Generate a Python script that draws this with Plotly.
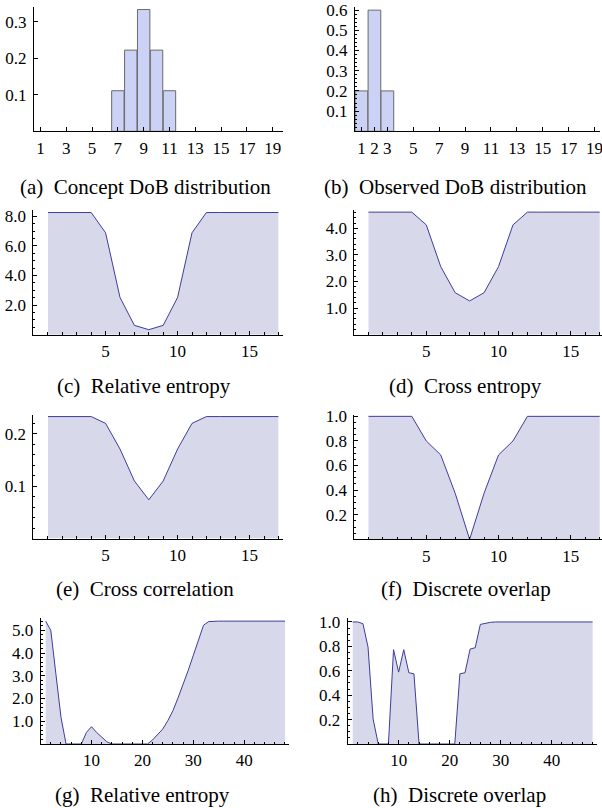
import plotly.graph_objects as go

W, H = 602, 808

# ---------------- data ----------------
dob_ticks_a = [1, 3, 5, 7, 9, 11, 13, 15, 17, 19]
dob_ticks_b = [1, 2, 3, 5, 7, 9, 11, 13, 15, 17, 19]
concept_dob = [7, 8, 9, 10, 11]
concept_p = [0.111, 0.222, 0.333, 0.222, 0.111]
observed_dob = [1, 2, 3]
observed_p = [0.2, 0.6, 0.2]

shift17 = list(range(1, 18))
rel_entropy = [8.25, 8.25, 8.25, 8.25, 6.88, 2.52, 0.63, 0.34, 0.63, 2.52, 6.88,
               8.25, 8.25, 8.25, 8.25, 8.25, 8.25]
cross_entropy = [4.61, 4.61, 4.61, 4.61, 4.13, 2.56, 1.58, 1.27, 1.58, 2.56, 4.13,
                 4.61, 4.61, 4.61, 4.61, 4.61, 4.61]
cross_corr = [0.233, 0.233, 0.233, 0.233, 0.220, 0.171, 0.110, 0.074, 0.110, 0.171,
              0.220, 0.233, 0.233, 0.233, 0.233, 0.233, 0.233]
disc_overlap = [1.0, 1.0, 1.0, 1.0, 0.80, 0.686, 0.375, 0.0, 0.375, 0.686, 0.80,
                1.0, 1.0, 1.0, 1.0, 1.0, 1.0]

shift48 = list(range(1, 49))
rel_entropy_48 = [5.40, 5.00, 3.09, 1.18, 0.0, 0.0, 0.0, 0.0, 0.51, 0.76, 0.51, 0.29,
                  0.10, 0.0, 0.0, 0.0, 0.0, 0.0, 0.0, 0.0, 0.0, 0.18, 0.40, 0.66,
                  1.03, 1.47, 2.03, 2.62, 3.24, 3.90, 4.59, 5.22, 5.38, 5.40, 5.40, 5.40,
                  5.40, 5.40, 5.40, 5.40, 5.40, 5.40, 5.40, 5.40, 5.40, 5.40, 5.40, 5.40]
disc_overlap_48 = [1.0, 1.0, 0.986, 0.795, 0.205, 0.0, 0.0, 0.0, 0.773, 0.589, 0.773,
                   0.584, 0.575, 0.0, 0.0, 0.0, 0.0, 0.0, 0.0, 0.0, 0.0, 0.575, 0.584,
                   0.778, 0.789, 0.98, 0.99, 0.997, 1.0, 1.0, 1.0, 1.0, 1.0, 1.0, 1.0,
                   1.0, 1.0, 1.0, 1.0, 1.0, 1.0, 1.0, 1.0, 1.0, 1.0, 1.0, 1.0, 1.0]

captions = ["(a)\u00a0\u00a0Concept DoB distribution", "(b)\u00a0\u00a0Observed DoB distribution",
            "(c)\u00a0\u00a0Relative entropy", "(d)\u00a0\u00a0Cross entropy",
            "(e)\u00a0\u00a0Cross correlation", "(f)\u00a0\u00a0Discrete overlap",
            "(g)\u00a0\u00a0Relative entropy", "(h)\u00a0\u00a0Discrete overlap"]

# ---------------- styling / layout ----------------
FONT = "Liberation Serif, Times New Roman, serif"
LINE = "#3D3D99"
FILL = "#D8D8EB"
BAR = "#CBD2F5"
BAR_EDGE = "#6A6A6A"

# panel pixel boxes: left, right, bottom, top ; x range ; y range
panels = [
    dict(box=(34, 283, 131.3, 7.0), xr=[0.5, 19.8], yr=[0, 0.34]),
    dict(box=(355, 600, 131.3, 6.7), xr=[0.5, 19.42], yr=[0, 0.617]),
    dict(box=(33.3, 283.3, 334.7, 210), xr=[-0.02, 17.34], yr=[0, 8.42]),
    dict(box=(354.3, 601.7, 334.7, 210), xr=[0.02, 17.14], yr=[0, 4.69]),
    dict(box=(33.3, 283.3, 538.5, 415), xr=[-0.02, 17.34], yr=[0, 0.236]),
    dict(box=(354.3, 601.7, 539.3, 415), xr=[0.02, 17.14], yr=[0, 1.011]),
    dict(box=(40.7, 289.3, 744, 618.3), xr=[0.02, 48.85], yr=[0, 5.525]),
    dict(box=(347.7, 596.7, 744, 618.3), xr=[0.02, 48.8], yr=[0, 1.03]),
]

cap_pos = [(145.5, 186.5), (455.7, 186.5), (144, 385.5), (465, 385.5),
           (145, 589), (466, 589), (142.5, 795), (459, 795)]

fig = go.Figure()

# bars
fig.add_trace(go.Bar(x=concept_dob, y=concept_p, width=0.96, marker=dict(color=BAR, line=dict(color=BAR_EDGE, width=1)),
                     xaxis="x", yaxis="y"))
fig.add_trace(go.Bar(x=observed_dob, y=observed_p, width=0.98, marker=dict(color=BAR, line=dict(color=BAR_EDGE, width=1)),
                     xaxis="x2", yaxis="y2"))

series = [(shift17, rel_entropy), (shift17, cross_entropy), (shift17, cross_corr),
          (shift17, disc_overlap), (shift48, rel_entropy_48), (shift48, disc_overlap_48)]
for i, (xs, ys) in enumerate(series):
    k = i + 3
    fig.add_trace(go.Scatter(x=xs, y=ys, mode="lines", fill="tozeroy", fillcolor=FILL,
                             line=dict(color=LINE, width=1), xaxis=f"x{k}", yaxis=f"y{k}"))

def fmt(vals, nd):
    return [f"{v:.{nd}f}" for v in vals]

tick_specs = [
    (dob_ticks_a, [str(v) for v in dob_ticks_a], None, [0.1, 0.2, 0.3], fmt([0.1, 0.2, 0.3], 1), None),
    (dob_ticks_b, [str(v) for v in dob_ticks_b], None, [0.1, 0.2, 0.3, 0.4, 0.5, 0.6],
     fmt([0.1, 0.2, 0.3, 0.4, 0.5, 0.6], 1), 0.02),
    ([5, 10, 15], ["5", "10", "15"], 1, [2, 4, 6, 8], fmt([2, 4, 6, 8], 1), 0.5),
    ([5, 10, 15], ["5", "10", "15"], 1, [1, 2, 3, 4], fmt([1, 2, 3, 4], 1), 0.2),
    ([5, 10, 15], ["5", "10", "15"], 1, [0.1, 0.2], fmt([0.1, 0.2], 1), 0.02),
    ([5, 10, 15], ["5", "10", "15"], 1, [0.2, 0.4, 0.6, 0.8, 1.0], fmt([0.2, 0.4, 0.6, 0.8, 1.0], 1), 0.05),
    ([10, 20, 30, 40], ["10", "20", "30", "40"], 2, [1, 2, 3, 4, 5], fmt([1, 2, 3, 4, 5], 1), 0.2),
    ([10, 20, 30, 40], ["10", "20", "30", "40"], 2, [0.2, 0.4, 0.6, 0.8, 1.0], fmt([0.2, 0.4, 0.6, 0.8, 1.0], 1), 0.05),
]

tickfont = dict(family=FONT, size=17, color="black")
layout = {}
for i, (p, ts) in enumerate(zip(panels, tick_specs)):
    k = "" if i == 0 else str(i + 1)
    l, r, b, t = p["box"]
    xv, xt, xm, yv, yt, ym = ts
    xa = dict(domain=[l / W, r / W], range=p["xr"], anchor=f"y{k}", showline=True, linecolor="black",
              linewidth=1, ticks="inside", ticklen=4, tickcolor="black", tickwidth=1, tickmode="array",
              tickvals=xv, ticktext=xt, tickfont=tickfont, showgrid=False, zeroline=False, fixedrange=True,
              ticklabelstandoff=1, automargin=False, ticklabeloverflow="allow")
    if xm:
        xa["minor"] = dict(dtick=xm, tick0=0, ticks="inside", ticklen=2.5, tickcolor="black", showgrid=False)
    ya = dict(domain=[1 - b / H, 1 - t / H], range=p["yr"], anchor=f"x{k}", showline=True, linecolor="black",
              linewidth=1, ticks="inside", ticklen=4, tickcolor="black", tickwidth=1, tickmode="array",
              tickvals=yv, ticktext=yt, tickfont=tickfont, showgrid=False, zeroline=False, fixedrange=True,
              ticklabelstandoff=3, automargin=False, ticklabeloverflow="allow")
    if ym:
        ya["minor"] = dict(dtick=ym, tick0=0, ticks="inside", ticklen=2, tickcolor="black", showgrid=False)
    layout[f"xaxis{k}"] = xa
    layout[f"yaxis{k}"] = ya

annotations = []
for cap, (cx, cy) in zip(captions, cap_pos):
    annotations.append(dict(text=cap, x=cx / W, y=1 - cy / H, xref="paper", yref="paper",
                            xanchor="center", yanchor="middle", showarrow=False,
                            font=dict(family=FONT, size=21, color="black")))

fig.update_layout(width=W, height=H, margin=dict(l=0, r=0, t=0, b=0, autoexpand=False), showlegend=False,
                  plot_bgcolor="white", paper_bgcolor="white", bargap=0, annotations=annotations,
                  hovermode=False, **layout)

fig.write_html("out.html", config={"displayModeBar": False, "staticPlot": True},
               post_script="document.body.style.margin='0';document.body.style.padding='0';")
